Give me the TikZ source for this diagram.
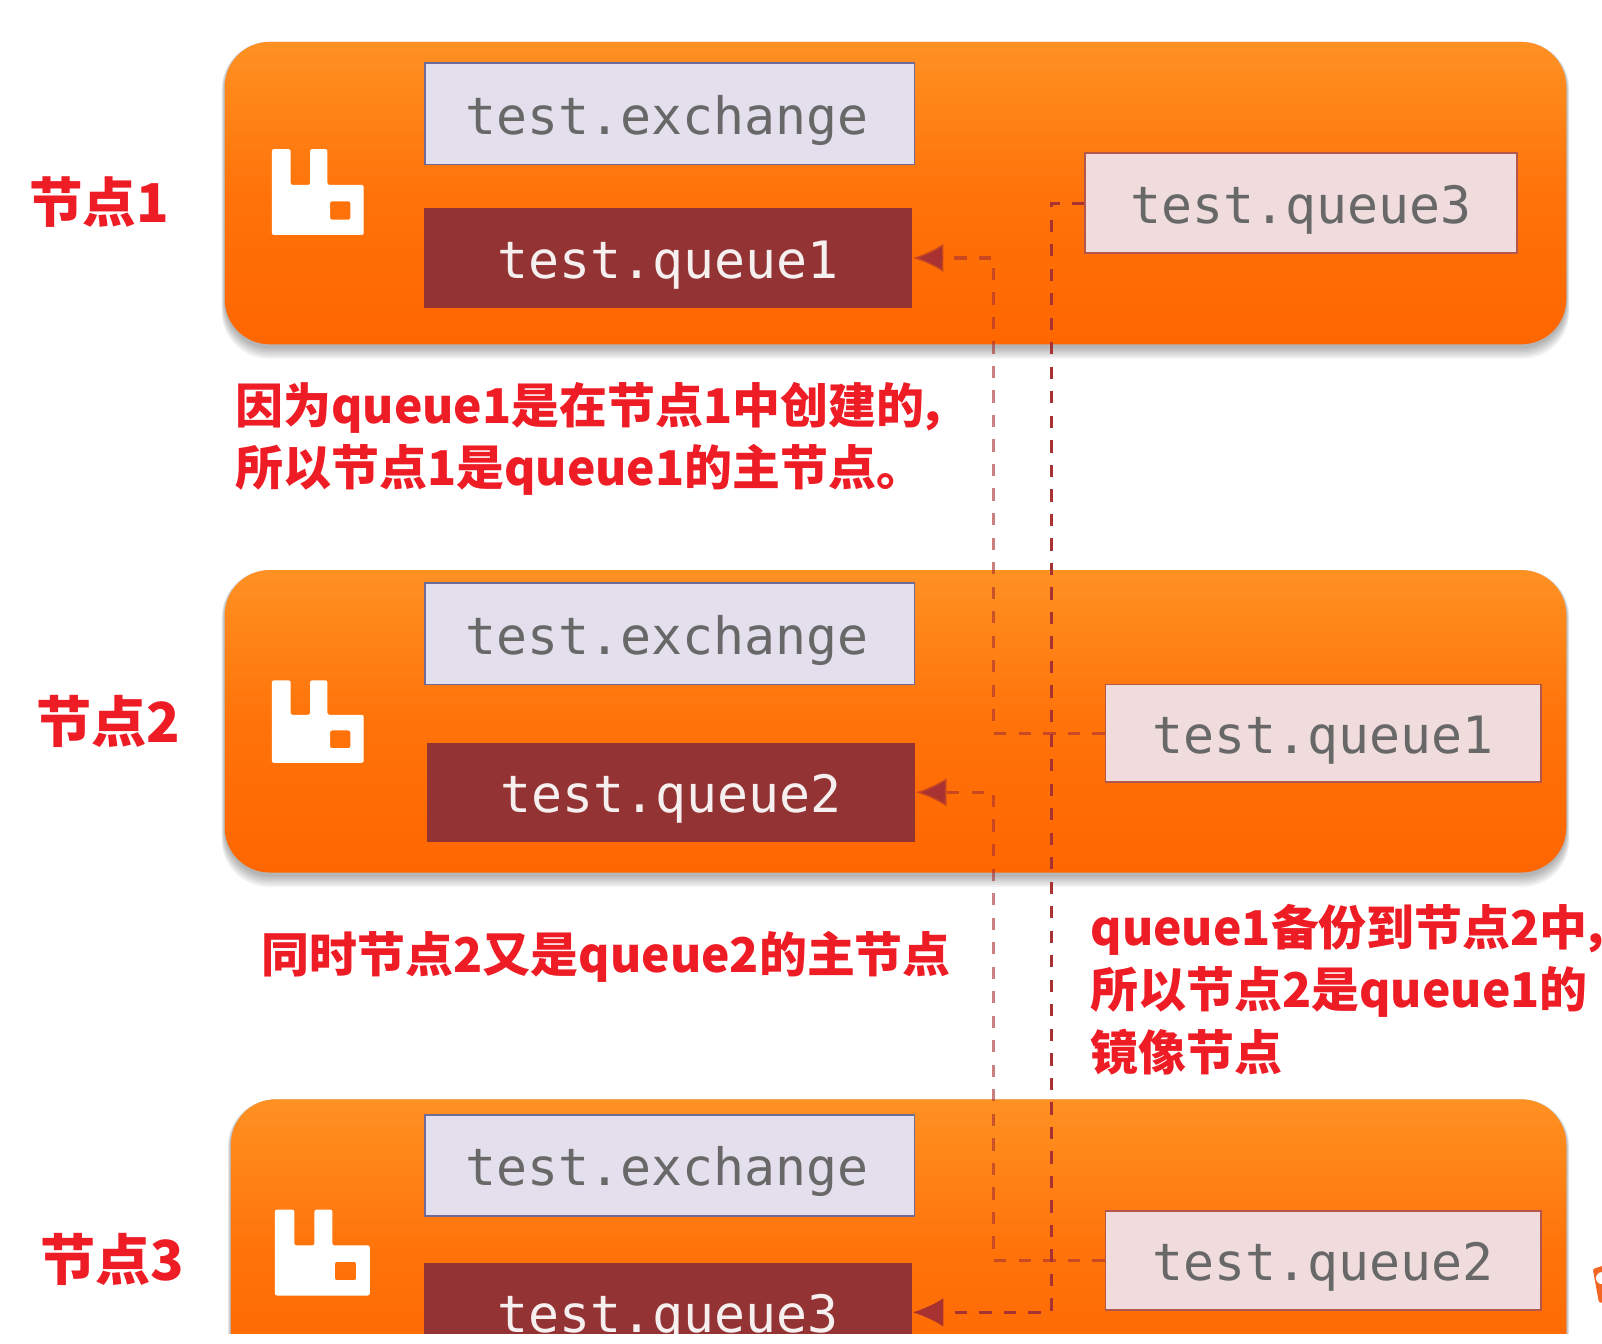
\documentclass[tikz,border=0pt]{standalone}
\usepackage{fontspec}
\newfontfamily\cjk{Noto Sans CJK SC}
\newfontfamily\codefont{DejaVu Sans Mono}
\usetikzlibrary{arrows.meta}
\definecolor{redtext}{HTML}{EE1C25}
\definecolor{darkq}{HTML}{943333}
\definecolor{linkred}{HTML}{A83232}
\definecolor{orange1}{HTML}{FF9122}
\definecolor{orange2}{HTML}{FF6600}
\definecolor{exline}{HTML}{6F6A98}
\definecolor{exfill}{HTML}{E4DFEC}
\definecolor{mirline}{HTML}{B5564A}
\definecolor{mirfill}{HTML}{F0DCDC}
\definecolor{codegray}{HTML}{686868}
\definecolor{badge}{HTML}{F26522}
\tikzset{
	server/.style={rounded corners=22pt, top color=orange1, bottom color=orange2, middle color=orange2!70!orange1},
	halo/.style={rounded corners=23pt, fill=black, opacity=0.055},
	codetext/.style={font=\fontsize{25.2}{25}\selectfont\codefont, text height=20pt, text depth=0pt, inner sep=0pt},
	exbox/.style={codetext, draw=exline, fill=exfill, line width=0.9pt, text=codegray},
	qmain/.style={codetext, fill=darkq, text=white!92!darkq},
	qmirror/.style={codetext, draw=mirline, fill=mirfill, line width=0.9pt, text=codegray},
	lab/.style={text=redtext, font=\fontsize{27}{30.5}\selectfont\cjk\bfseries, inner sep=0pt},
	note/.style={text=redtext, font=\fontsize{23.45}{30.5}\selectfont\cjk\bfseries, align=left, anchor=west, inner sep=0pt},
	link/.style={draw=linkred, line width=1.2pt, dash pattern=on 6pt off 6pt, -{Latex[length=15pt,width=14pt]}},
	farlink/.style={link, line width=1.5pt, draw opacity=0.62},
	rabbit/.style={fill=white, even odd rule, rounded corners=1pt}
}
\begin{document}
\begin{tikzpicture}[x=0.5pt, y=-0.5pt]
	\useasboundingbox (0,0) rectangle (1568,1315);
	\begin{scope}
	\clip (0,0) rectangle (1568,1305);

	\foreach \i/\x/\y in {1/220/41, 2/220/558, 3/226/1076}
	{
		\foreach \k in {2,4,...,12}
		{
			\path[halo] (\x-\k/4,\y) rectangle (1533+\k/4,\y+298+\k);
		}
		\path[server] (\x,\y) rectangle (1533,\y+296);
	}

	\foreach \i/\x/\y/\sx/\sy in {1/266/146/1/1, 2/266/666/1/0.96, 3/269/1184/1.033/1}
	{
		\fill[rabbit, shift={(\x,\y)}, xscale=\sx, yscale=\sy] (0,0) -- (18.5,0) -- (18.5,35) -- (37.5,35) -- (37.5,0) -- (54.5,0) -- (54.5,35) -- (90,35) -- (90,84) -- (0,84) -- cycle
			(57,51) rectangle (77,69);
	}

	\foreach \i/\y in {1/111.5, 2/620.5, 3/1140.5}
	{
		\node[exbox, minimum width=239.5pt, minimum height=49.5pt] (ex\i) at (655.5,\y) {test.exchange\kern3pt};
	}

	\node[qmain, minimum width=239pt, minimum height=48.5pt] (q1) at (654,252.5) {test.queue1};
	\node[qmain, minimum width=239pt, minimum height=48.5pt] (q2) at (657,775.5) {test.queue2};
	\node[qmain, minimum width=239pt, minimum height=48.5pt] (q3) at (654,1284.5) {test.queue3};

	\node[qmirror, minimum width=211.5pt, minimum height=49pt] (m3) at (1273.5,199) {test.queue3};
	\node[qmirror, minimum width=213pt, minimum height=47.5pt] (m1) at (1295,717.5) {test.queue1};
	\node[qmirror, minimum width=213pt, minimum height=48.5pt] (m2) at (1295,1233.5) {test.queue2};

	\coordinate (t3) at (1029,0);
	\coordinate (t1) at (972.5,0);
	\draw[link] (m3.west) -- (t3 |- m3.west) -- (t3 |- q3.east) -- (q3.east);
	\draw[farlink] (m1.west) -- (t1 |- m1.west) -- (t1 |- q1.east) -- (q1.east);
	\draw[farlink] (m2.west) -- (t1 |- m2.west) -- (t1 |- q2.east) -- (q2.east);
	\end{scope}

	\begin{scope}
	\clip (0,0) rectangle (1568,1315);
	\fill[badge, even odd rule, rounded corners=1pt] (1559,1242) -- (1572,1238) -- (1572,1275) -- (1565,1275) -- cycle
		(1568,1251) circle (6);
	\end{scope}

	\node[lab, font=\fontsize{26.2}{30.5}\selectfont\cjk\bfseries] (n1) at (97,198) {节点1};
	\node[lab] (n2) at (106,706) {节点2};
	\node[lab] (n3) at (110,1233) {节点3};

	\node[note] (a) at (230,429.5) {因为queue1是在节点1中创建的\kern-3pt，\\所以节点1是queue1的主节点。};
	\node[note] (b) at (256,937) {同时节点2又是queue2的主节点};
	\node[note] (c) at (1067,968.5) {queue1备份到节点2中\kern-3pt，\kern-14pt\\所以节点2是queue1的\\镜像节点};
\end{tikzpicture}
\end{document}
